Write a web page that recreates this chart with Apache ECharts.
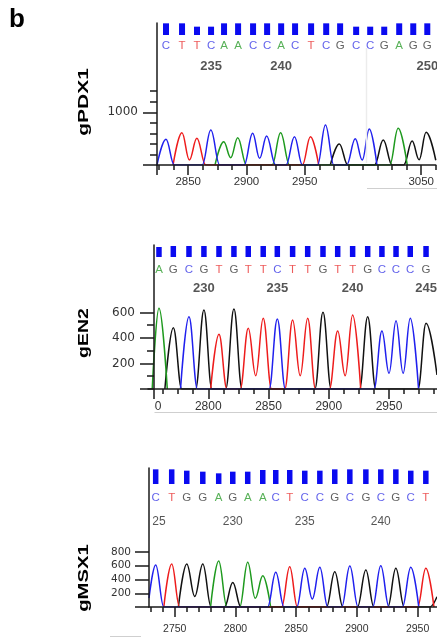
<!DOCTYPE html>
<html><head><meta charset="utf-8">
<script src="https://cdn.jsdelivr.net/npm/echarts@6/dist/echarts.min.js"></script>
<style>html,body{margin:0;padding:0;background:#fff}#c{width:437px;height:639px}</style>
</head><body><div id="c"></div>
<script>
// ---------- Panel 1 : gPDX1 ----------
const p1Name = 'gPDX1';
const p1Bases = 'CTTCAACCACTCGCCGAGG';
const p1Positions = [2830.9,2844.6,2857.4,2869.4,2880.5,2892.5,2905.3,2917.3,2929.3,2941.2,2954.9,2967.8,2979.7,2993.4,3005.4,3017.4,3030.2,3042.2,3054.2];
const p1Quality = [35,35,25,25,35,35,35,35,35,35,35,35,35,25,25,25,35,35,35];
const p1FirstNumber = 232;
const p1Numbers = [235,240,250];
const p1XRange = [2823.2,3062.5];
const p1XMajor = [2823.2,2850,2900,2950,3050];
const p1XLabels = [2850,2900,2950,3050];
const p1XMinorStep = 12.5;
const p1YRange = [0,2694];
const p1YMinor = [200,400,600,800,1200,1400];
const p1YMajor = [0,1000];
const p1YLabels = [1000];
const p1TraceA = [[2873,0],[2880.5,442],[2886.5,139],[2892.5,518],[2900,0],[2922,0],[2929.3,613],[2937,0],[3023,0],[3030.2,696],[3038,0]];
const p1TraceC = [[2823.2,0],[2830.9,488],[2838,0],[2862,0],[2869.4,664],[2877,0],[2898,0],[2905.3,602],[2911.3,127],[2917.3,550],[2925,0],[2934,0],[2941.2,537],[2948,0],[2961,0],[2967.8,759],[2975,0],[2986,0],[2993.4,499],[2999.4,95],[3005.4,683],[3012,0]];
const p1TraceG = [[2972,0],[2979.7,398],[2987,0],[3010,0],[3017.4,474],[3025,0],[3035,0],[3042.2,455],[3048.2,100],[3054.2,620],[3062.5,90]];
const p1TraceT = [[2837,0],[2844.6,613],[2851,95],[2857.4,507],[2865,0],[2948,0],[2954.9,537],[2962,0]];

// ---------- Panel 2 : gEN2 ----------
const p2Name = 'gEN2';
const p2Bases = 'AGCGTGTTCTTGTTGCCCG';
const p2Positions = [2759.1,2771.0,2784.0,2796.4,2808.9,2821.3,2833.2,2845.6,2857.3,2870.0,2882.5,2895.2,2907.4,2919.8,2932.3,2944.1,2955.8,2967.6,2980.7];
const p2Quality = [30,33,33,33,33,33,33,33,33,33,33,33,33,33,33,33,33,33,33];
const p2FirstNumber = 227;
const p2Numbers = [230,235,240,245];
const p2XRange = [2750,2989.8];
const p2XMajor = [2754.9,2800,2850,2900,2950];
const p2XLabels = [2750,2800,2850,2900,2950];
const p2XMinorStep = 12.5;
const p2YRange = [0,1129];
const p2YMinor = [100,300,500];
const p2YMajor = [0,200,400,600];
const p2YLabels = [200,400,600];
const p2TraceA = [[2753.5,0],[2759.1,633],[2766,0]];
const p2TraceC = [[2777,0],[2784,567],[2791,0],[2850.5,0],[2857.3,549],[2864,0],[2937.5,0],[2944.1,455],[2950,123],[2955.8,536],[2961.7,123],[2967.6,554],[2974.5,0]];
const p2TraceG = [[2764,0],[2771,481],[2778,0],[2789.5,0],[2796.4,620],[2803,0],[2814.5,0],[2821.3,627],[2828,0],[2888.5,0],[2895.2,601],[2902,0],[2925.5,0],[2932.3,567],[2939,0],[2974,0],[2980.7,515],[2989.8,110]];
const p2TraceT = [[2802,0],[2808.9,429],[2815.5,0],[2826.5,0],[2833.2,476],[2839.4,104],[2845.6,554],[2852.5,0],[2863.5,0],[2870,541],[2876.3,104],[2882.5,554],[2889,0],[2900.5,0],[2907.4,455],[2913.6,104],[2919.8,580],[2926.5,0]];

// ---------- Panel 3 : gMSX1 ----------
const p3Name = 'gMSX1';
const p3Bases = 'CTGGAGAACTCCGCGCGCT';
const p3Positions = [2734.3,2747.5,2759.9,2773.1,2786.2,2797.8,2810.1,2822.5,2833.2,2844.7,2857.1,2869.5,2881.8,2894.2,2907.4,2919.7,2932.1,2944.4,2956.8];
const p3Quality = [44,44,40,37,32,37,37,42,42,42,40,40,44,44,44,44,44,40,40];
const p3FirstNumber = 225;
const p3Numbers = [225,230,235,240];
const p3XRange = [2728.8,2966.0];
const p3XMajor = [2750,2800,2850,2900,2950];
const p3XLabels = [2750,2800,2850,2900,2950];
const p3XMinorStep = 10;
const p3YRange = [0,2022];
const p3YMinor = [];
const p3YMajor = [0,200,400,600,800];
const p3YLabels = [200,400,600,800];
const p3TraceA = [[2779.5,0],[2786.2,669],[2793,0],[2803.5,0],[2810.1,652],[2816.3,127],[2822.5,453],[2829,0]];
const p3TraceC = [[2728.8,130],[2734.3,611],[2741,0],[2826.5,0],[2833.2,504],[2840,0],[2850.5,0],[2857.1,565],[2863.3,117],[2869.5,580],[2876,0],[2887.5,0],[2894.2,596],[2901,0],[2913,0],[2919.7,601],[2926.5,0],[2937.5,0],[2944.4,580],[2951,0]];
const p3TraceG = [[2753,0],[2759.9,626],[2766.5,153],[2773.1,626],[2780,0],[2791,0],[2797.8,356],[2804.5,0],[2875,0],[2881.8,514],[2888.5,0],[2900.5,0],[2907.4,540],[2914,0],[2925.5,0],[2932.1,565],[2939,0],[2960,0],[2966,150]];
const p3TraceT = [[2741,0],[2747.5,626],[2754,0],[2838,0],[2844.7,585],[2851,0],[2950,0],[2956.8,565],[2963.5,0]];

// ---------- styling ----------
const traceColor = {A:'#1e9a1e', C:'#2020ee', G:'#111111', T:'#ee1c1c'};
const letterColor = {A:'#2e9e2e', C:'#3a3ae6', G:'#3a3a3a', T:'#e83232'};
const SANS = 'Liberation Sans, Arial, sans-serif';
const DEJA = 'DejaVu Sans, Verdana, sans-serif';

const panels = [
  {name:p1Name, bases:p1Bases, pos:p1Positions, q:p1Quality, first:p1FirstNumber, nums:p1Numbers,
   xr:p1XRange, xMajor:p1XMajor, xLabels:p1XLabels, xStep:p1XMinorStep, yr:p1YRange, yMinor:p1YMinor, yMajor:p1YMajor, yLabels:p1YLabels,
   tr:{A:p1TraceA,C:p1TraceC,G:p1TraceG,T:p1TraceT},
   grid:{left:157, top:23, width:280, height:142}, seqTop:15, yOffset:0,
   xFont:11.5, xMargin:11, yFont:12, yMargin:19, letterFont:11.5, letterDy:11, numFont:13, numWeight:'bold', numDy:31, barW:6, labelY:102, labelScale:1.4},
  {name:p2Name, bases:p2Bases, pos:p2Positions, q:p2Quality, first:p2FirstNumber, nums:p2Numbers,
   xr:p2XRange, xMajor:p2XMajor, xLabels:p2XLabels, xStep:p2XMinorStep, yr:p2YRange, yMinor:p2YMinor, yMajor:p2YMajor, yLabels:p2YLabels,
   tr:{A:p2TraceA,C:p2TraceC,G:p2TraceG,T:p2TraceT},
   grid:{left:148, top:245, width:289, height:144}, seqTop:237, yOffset:-6,
   xFont:12, xMargin:12, yFont:12, yMargin:19, letterFont:11.5, letterDy:13, numFont:13, numWeight:'bold', numDy:31, barW:5.5, labelY:333, labelScale:1.3},
  {name:p3Name, bases:p3Bases, pos:p3Positions, q:p3Quality, first:p3FirstNumber, nums:p3Numbers,
   xr:p3XRange, xMajor:p3XMajor, xLabels:p3XLabels, xStep:p3XMinorStep, yr:p3YRange, yMinor:p3YMinor, yMajor:p3YMajor, yLabels:p3YLabels,
   tr:{A:p3TraceA,C:p3TraceC,G:p3TraceG,T:p3TraceT},
   grid:{left:149, top:468, width:288, height:139}, seqTop:464, yOffset:0,
   xFont:10.5, xMargin:17, yFont:10.5, yMargin:18, letterFont:11.5, letterDy:14, numFont:12, numWeight:'normal', numDy:38, barW:5.5, labelY:578, labelScale:1.35}
];

function minorTicks(r, step, majors){
  const out=[]; const start=Math.ceil(r[0]/step)*step;
  for(let v=start; v<=r[1]+1e-9; v+=step){ if(!majors.some(m=>Math.abs(m-v)<1e-6)) out.push(+v.toFixed(3)); }
  return out;
}

const grid=[], xAxis=[], yAxis=[], series=[];
const axisLineStyle = {color:'#1a1a1a', width:1.5};
panels.forEach((p,i)=>{
  const gT = grid.length;
  grid.push({left:p.grid.left, top:p.grid.top, width:p.grid.width, height:p.grid.height, containLabel:false});
  const gS = grid.length;
  grid.push({left:p.grid.left, top:p.seqTop, width:p.grid.width, height:20, containLabel:false});
  const xMaj = xAxis.length;
  xAxis.push({type:'value', gridIndex:gT, min:p.xr[0], max:p.xr[1], position:'bottom', z:20,
    axisLine:{show:true, lineStyle:axisLineStyle},
    axisTick:{show:true, customValues:p.xMajor, length:10, lineStyle:{color:'#1a1a1a', width:1.5}},
    axisLabel:{show:true, customValues:p.xLabels, formatter:v=>String(v), fontFamily:SANS, fontSize:p.xFont, color:'#333', margin:p.xMargin, showMinLabel:true, showMaxLabel:true},
    splitLine:{show:false}});
  xAxis.push({type:'value', gridIndex:gT, min:p.xr[0], max:p.xr[1], position:'bottom', z:20,
    axisLine:{show:false},
    axisTick:{show:true, customValues:minorTicks(p.xr, p.xStep, p.xMajor.concat(p.xLabels)), length:5, lineStyle:{color:'#1a1a1a', width:1.5}},
    axisLabel:{show:false}, splitLine:{show:false}});
  const xSeq = xAxis.length;
  xAxis.push({type:'value', gridIndex:gS, min:p.xr[0], max:p.xr[1], show:false});
  const yMin = yAxis.length;
  yAxis.push({type:'value', gridIndex:gT, min:p.yr[0], max:p.yr[1], position:'left', offset:p.yOffset, z:60,
    axisLine:{show:true, lineStyle:axisLineStyle},
    axisTick:{show:p.yMinor.length>0, customValues:p.yMinor.length?p.yMinor:[0], length:7, lineStyle:{color:'#1a1a1a', width:1.5}},
    axisLabel:{show:false}, splitLine:{show:false}});
  yAxis.push({type:'value', gridIndex:gT, min:p.yr[0], max:p.yr[1], position:'left', offset:p.yOffset, z:60,
    axisLine:{show:false},
    axisTick:{show:true, customValues:p.yMajor, length:14, lineStyle:{color:'#1a1a1a', width:1.5}},
    axisLabel:{show:true, customValues:p.yLabels, formatter:v=>String(v), fontFamily:DEJA, fontSize:p.yFont, color:'#333', margin:p.yMargin},
    splitLine:{show:false}});
  const ySeq = yAxis.length;
  yAxis.push({type:'value', gridIndex:gS, min:0, max:60, show:false});

  ['G','A','T','C'].forEach(b=>{
    series.push({type:'line', xAxisIndex:xMaj, yAxisIndex:yMin, data:p.tr[b], smooth:0.4, smoothMonotone:'x',
      symbol:'none', showSymbol:false, lineStyle:{color:traceColor[b], width:1.5}, itemStyle:{color:traceColor[b]}, z:3});
  });
  series.push({type:'bar', xAxisIndex:xSeq, yAxisIndex:ySeq, barWidth:p.barW, itemStyle:{color:'#0a0af0'},
    data:p.pos.map((x,k)=>[x,p.q[k]]), z:3});
  series.push({type:'scatter', xAxisIndex:xSeq, yAxisIndex:ySeq, symbol:'circle', symbolSize:1,
    itemStyle:{color:'rgba(0,0,0,0)'}, z:2,
    data:p.pos.map((x,k)=>({value:[x,0], label:{formatter:p.bases[k], color:letterColor[p.bases[k]]}})),
    label:{show:true, position:[0.5,p.letterDy+0.5], align:'center', verticalAlign:'middle', fontFamily:SANS, fontSize:p.letterFont}});
  series.push({type:'scatter', xAxisIndex:xSeq, yAxisIndex:ySeq, symbol:'circle', symbolSize:1,
    itemStyle:{color:'rgba(0,0,0,0)'}, z:2,
    data:p.nums.map(n=>({value:[p.pos[n-p.first],0], label:{formatter:String(n)}})),
    label:{show:true, position:[0.5,p.numDy+0.5], align:'center', verticalAlign:'middle', fontFamily:SANS, fontSize:p.numFont, fontWeight:p.numWeight, color:'#2a2a2a'}});
});

const graphic = [
  {type:'text', left:9, top:7, style:{text:'b', font:'bold 26px Liberation Sans, Arial', fill:'#000'}},
  {type:'rect', shape:{x:110, y:399, width:44.5, height:17}, style:{fill:'#fff'}, z:50},
  {type:'rect', shape:{x:130, y:513, width:22.5, height:18}, style:{fill:'#fff'}, z:50},
  {type:'line', shape:{x1:366.5, y1:48, x2:366.5, y2:163}, style:{stroke:'#ececec', lineWidth:1.5}, z:10},
  {type:'line', shape:{x1:367, y1:188.5, x2:437, y2:188.5}, style:{stroke:'#cfcfcf', lineWidth:1}},
  {type:'line', shape:{x1:153, y1:412.5, x2:437, y2:412.5}, style:{stroke:'#cfcfcf', lineWidth:1}},
  {type:'line', shape:{x1:110, y1:636.5, x2:141, y2:636.5}, style:{stroke:'#cfcfcf', lineWidth:1}}
];
panels.forEach(p=>{
  graphic.push({type:'text', x:84, y:p.labelY, rotation:Math.PI/2, scaleX:p.labelScale, scaleY:1,
    style:{text:p.name, font:'bold 15px Liberation Sans, Arial', fill:'#000', align:'center', verticalAlign:'middle'}});
});

const chart = echarts.init(document.getElementById('c'), null, {renderer:'canvas'});
chart.setOption({animation:false, backgroundColor:'#fff', grid, xAxis, yAxis, series, graphic});
</script></body></html>
